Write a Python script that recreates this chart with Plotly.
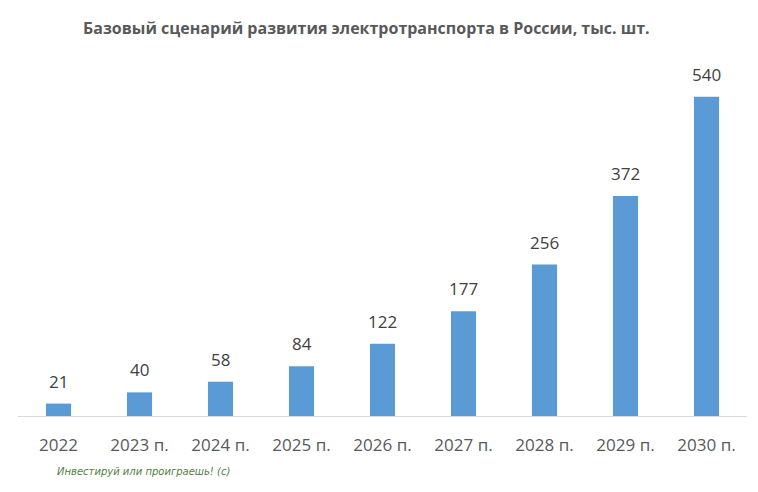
import plotly.graph_objects as go

categories = ["2022", "2023 п.", "2024 п.", "2025 п.", "2026 п.", "2027 п.", "2028 п.", "2029 п.", "2030 п."]
values = [21, 40, 58, 84, 122, 177, 256, 372, 540]
title_text = "Базовый сценарий развития электротранспорта в России, тыс. шт."
watermark = "Инвестируй или проиграешь! (с)"

fig = go.Figure()
fig.add_trace(go.Bar(
    x=categories, y=values,
    marker=dict(color="#5B9BD5", line=dict(width=0)),
    hoverinfo="x+y",
))

for i, v in enumerate(values):
    fig.add_annotation(
        x=i, y=v, text=str(v), showarrow=False,
        yanchor="bottom", yshift=9,
        font=dict(family="Open Sans, sans-serif", size=17, color="#404040"),
    )

fig.add_annotation(
    xref="paper", yref="paper", x=0.051, y=-0.157, xanchor="left", yanchor="middle",
    text="<i>" + watermark + "</i>", showarrow=False,
    font=dict(family="DejaVu Sans, sans-serif", size=10, color="#4E7F3E"),
)

fig.update_layout(
    width=742, height=476,
    margin=dict(l=10, r=3, t=52, b=68),
    paper_bgcolor="white", plot_bgcolor="white",
    bargap=0.69,
    showlegend=False,
    title=dict(
        text="<b>" + title_text + "</b>",
        x=0.483, xanchor="center", y=0.958, yanchor="middle",
        font=dict(family="Open Sans, sans-serif", size=16, color="#595959"),
    ),
    xaxis=dict(
        type="category",
        range=[-0.5, len(categories) - 0.5],
        showline=True, linecolor="#D9D9D9", linewidth=1,
        ticks="", showgrid=False,
        tickfont=dict(family="Open Sans, sans-serif", size=17, color="#595959"),
        ticklabelstandoff=14,
        automargin=False,
    ),
    yaxis=dict(
        range=[0, 602], visible=False, showgrid=False, zeroline=False,
    ),
)

fig.write_html("out.html")
